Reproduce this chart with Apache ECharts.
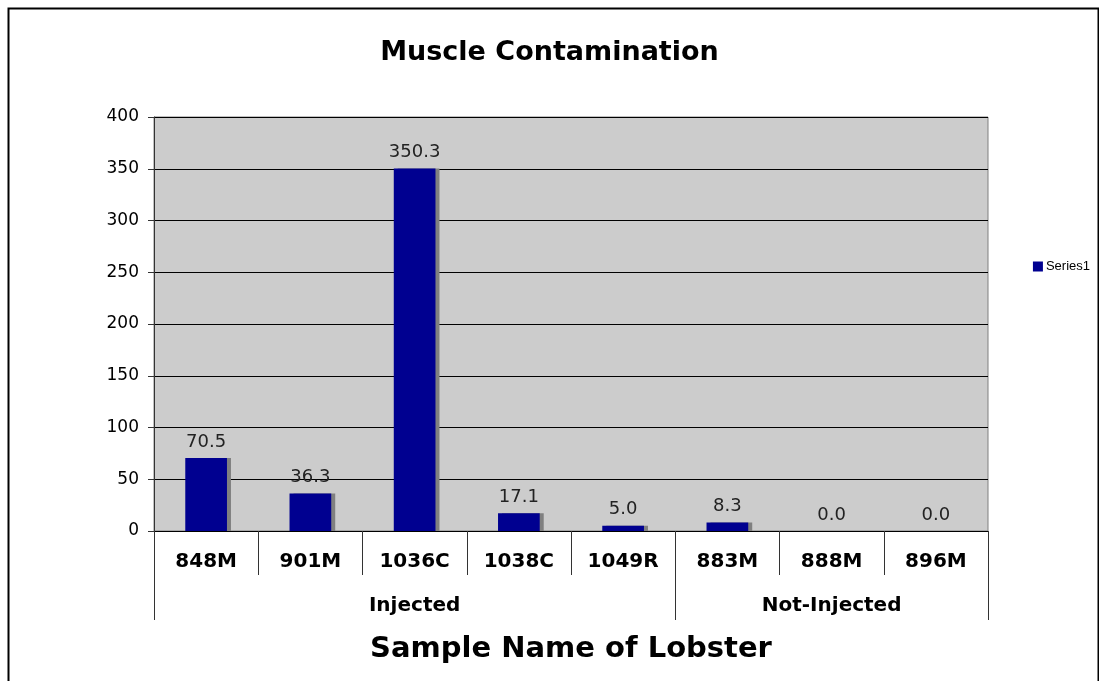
<!DOCTYPE html>
<html>
<head>
<meta charset="utf-8">
<script src="https://cdn.jsdelivr.net/npm/echarts@6/dist/echarts.min.js"></script>
<style>
  html, body { margin: 0; padding: 0; background: #fff; }
  #chart { width: 1099px; height: 681px; }
</style>
</head>
<body>
<div id="chart"></div>
<script>
(function(){

    var samples = ['848M', '901M', '1036C', '1038C', '1049R', '883M', '888M', '896M'];
    var groups = ['', '', 'Injected', '', '', '', 'Not-Injected', ''];
    var groupEdges = [0, 5, 8];
    var contamination = [70.5, 36.3, 350.3, 17.1, 5.0, 8.3, 0.0, 0.0];
    var yTicks = [0, 50, 100, 150, 200, 250, 300, 350, 400];

    var font = 'DejaVu Sans, Verdana, sans-serif';

    var option = {
        animation: false,
        backgroundColor: '#fff',
        title: {
            text: 'Muscle Contamination',
            left: 'center',
            top: 34,
            textStyle: {
                fontFamily: font,
                fontSize: 27,
                fontWeight: 'bold',
                color: '#000'
            }
        },
        legend: {
            right: 4,
            top: 255,
            itemWidth: 10,
            itemHeight: 10,
            itemGap: 4,
            icon: 'rect',
            data: ['Series1'],
            textStyle: {
                fontFamily: 'Liberation Sans, Arial, sans-serif',
                fontSize: 13,
                color: '#000',
                padding: [0, 0, 0, -2]
            }
        },
        graphic: [
            {
                type: 'rect',
                left: 6,
                top: 6,
                silent: true,
                shape: { width: 1090, height: 700 },
                style: { fill: 'none', stroke: '#000', lineWidth: 2 },
                z: -1
            }
        ],
        grid: {
            left: 154,
            right: 111,
            top: 117,
            bottom: 150,
            show: true,
            backgroundColor: '#cccccc',
            borderColor: '#808080',
            borderWidth: 1
        },
        xAxis: [
            {
                type: 'category',
                data: samples,
                position: 'bottom',
                axisLine: { show: true, lineStyle: { color: '#000', width: 1 } },
                axisTick: { show: true, interval: 0, length: 44, lineStyle: { color: '#333' } },
                axisLabel: {
                    interval: 0,
                    margin: 21,
                    fontFamily: font,
                    fontSize: 20,
                    fontWeight: 'bold',
                    color: '#000'
                }
            },
            {
                type: 'category',
                data: groups,
                position: 'bottom',
                offset: 44,
                axisLine: { show: false },
                axisTick: {
                    show: true,
                    length: 45,
                    interval: function (i) { return groupEdges.indexOf(i) >= 0; },
                    lineStyle: { color: '#333' }
                },
                axisLabel: {
                    interval: 0,
                    margin: 21,
                    fontFamily: font,
                    fontSize: 20,
                    fontWeight: 'bold',
                    color: '#000'
                },
                name: 'Sample Name of Lobster',
                nameLocation: 'middle',
                nameGap: 60,
                nameTextStyle: {
                    fontFamily: font,
                    fontSize: 29,
                    fontWeight: 'bold',
                    color: '#000'
                }
            }
        ],
        yAxis: {
            type: 'value',
            min: yTicks[0],
            max: yTicks[yTicks.length - 1],
            interval: 50,
            axisLine: { show: true, lineStyle: { color: '#333' } },
            axisTick: { show: true, length: 6, lineStyle: { color: '#333' } },
            axisLabel: {
                margin: 15,
                fontFamily: font,
                fontSize: 17,
                color: '#000'
            },
            splitLine: { show: true, lineStyle: { color: '#000', width: 1 } }
        },
        series: [
            {
                name: 'Series1',
                type: 'bar',
                xAxisIndex: 0,
                barWidth: '40%',
                data: contamination,
                itemStyle: {
                    color: '#000090',
                    shadowColor: '#808080',
                    shadowOffsetX: 4,
                    shadowOffsetY: 0,
                    shadowBlur: 0
                },
                label: {
                    show: true,
                    position: 'top',
                    distance: 7,
                    fontFamily: font,
                    fontSize: 18,
                    color: '#222',
                    formatter: function (p) { return p.value.toFixed(1); }
                }
            }
        ]
    };

    var myChart = echarts.init(document.getElementById('chart'));
    myChart.setOption(option);

})();
</script>
</body>
</html>
